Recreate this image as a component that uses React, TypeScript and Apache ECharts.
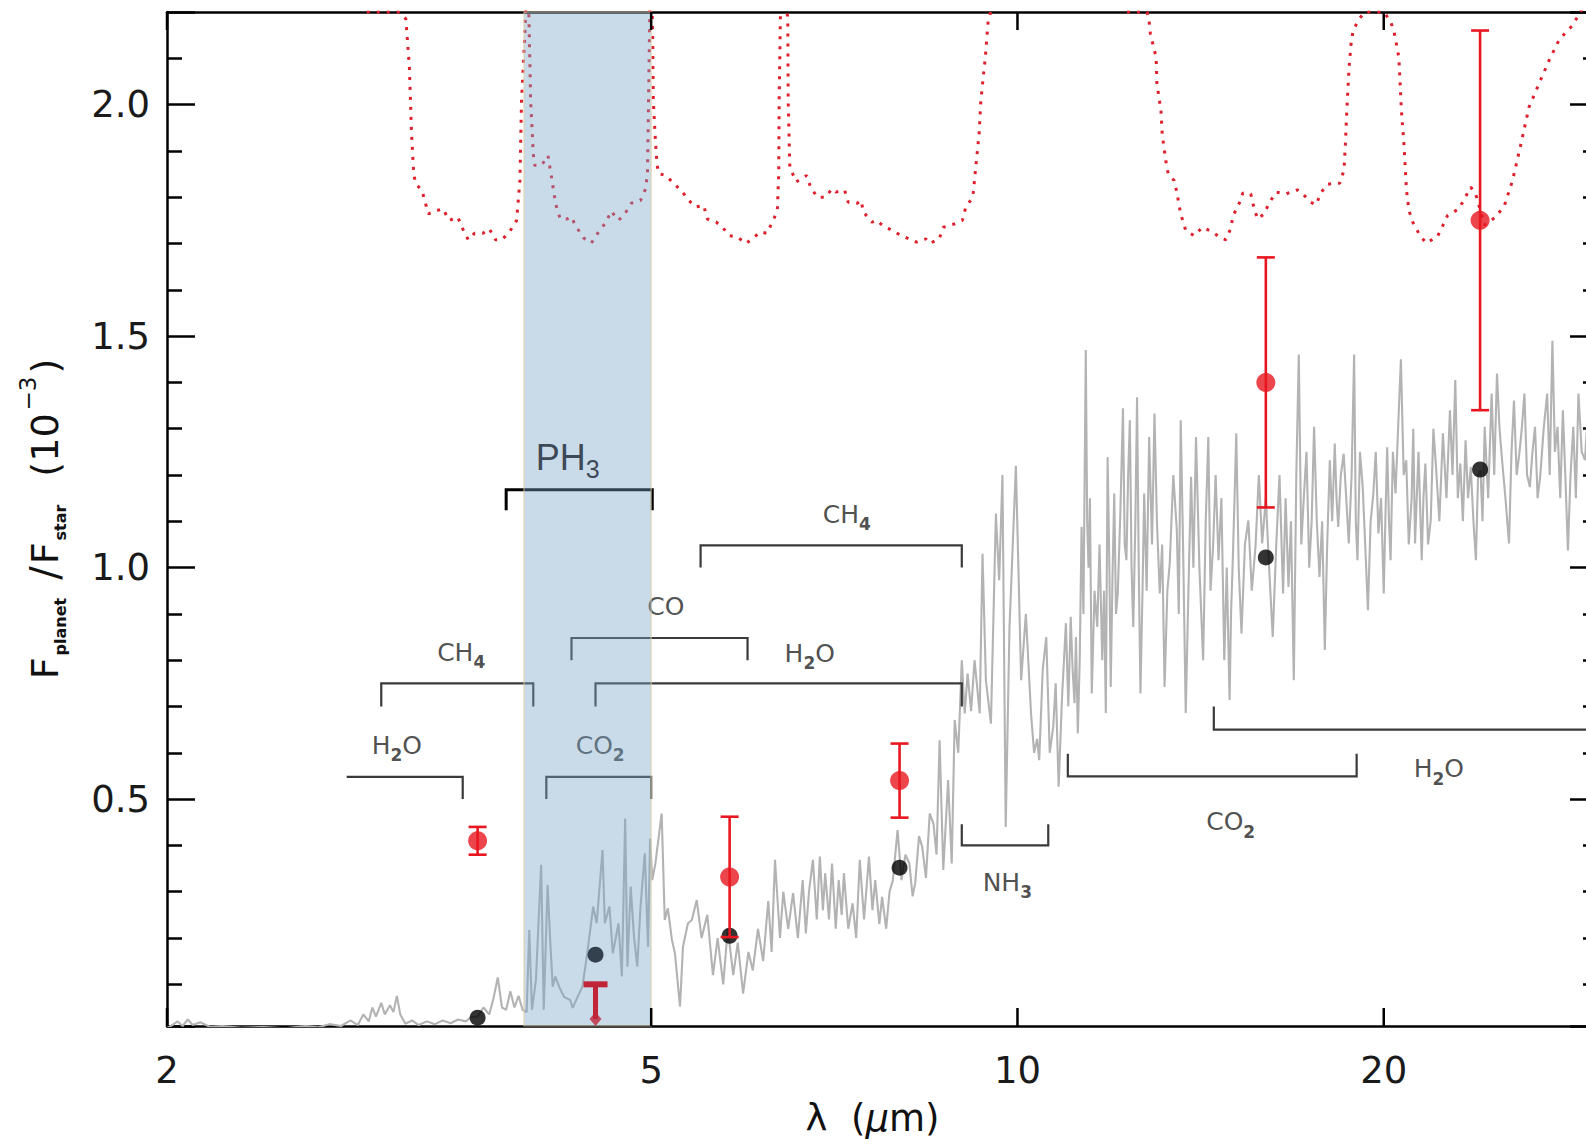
import React, { useEffect, useRef } from 'react';
import * as echarts from 'echarts';

// ---------- axis ranges & ticks ----------
const X_MIN = 2;
const X_MAX = 30;
const Y_MIN = 0.01;
const Y_MAX = 2.2;
const xTickValues = [2, 5, 10, 20];

// ---------- model spectrum (grey), [wavelength um, Fp/Fs 1e-3] ----------
const modelSpectrum: [number, number][] = [
  [2.0, 0.006], [2.02, 0.012], [2.04, 0.02], [2.06, 0.01], [2.08, 0.024], [2.1, 0.012], [2.13, 0.018], [2.17, 0.008],
  [2.22, 0.01], [2.3, 0.006], [2.4, 0.008], [2.5, 0.005], [2.6, 0.01], [2.66, 0.007], [2.72, 0.014], [2.78, 0.01],
  [2.83, 0.022], [2.87, 0.012], [2.9, 0.035], [2.93, 0.02], [2.95, 0.05], [2.97, 0.03], [3.0, 0.06], [3.02, 0.035],
  [3.05, 0.055], [3.07, 0.04], [3.09, 0.075], [3.11, 0.035], [3.14, 0.015], [3.18, 0.022], [3.22, 0.012], [3.27, 0.02],
  [3.32, 0.014], [3.37, 0.022], [3.42, 0.016], [3.47, 0.024], [3.52, 0.02], [3.56, 0.03],
  [3.6, 0.03], [3.64, 0.05], [3.68, 0.035], [3.71, 0.07], [3.74, 0.115], [3.77, 0.05], [3.8, 0.045], [3.83, 0.085],
  [3.86, 0.05], [3.89, 0.075], [3.92, 0.045],
  [3.95, 0.04], [3.97, 0.217], [3.99, 0.045], [4.02, 0.109], [4.06, 0.358], [4.08, 0.045], [4.11, 0.315], [4.13, 0.196],
  [4.15, 0.095], [4.17, 0.117], [4.2, 0.095], [4.24, 0.073], [4.29, 0.066], [4.31, 0.049], [4.35, 0.073], [4.39, 0.095],
  [4.43, 0.167], [4.48, 0.268], [4.51, 0.232], [4.56, 0.39], [4.58, 0.232], [4.62, 0.268], [4.65, 0.167], [4.7, 0.232],
  [4.73, 0.117], [4.76, 0.458], [4.78, 0.138], [4.81, 0.311], [4.84, 0.203], [4.87, 0.138], [4.9, 0.268], [4.94, 0.383],
  [4.97, 0.181], [4.99, 0.415], [5.01, 0.325], [5.04, 0.361], [5.1, 0.469], [5.13, 0.239], [5.16, 0.264], [5.2, 0.196],
  [5.23, 0.167], [5.28, 0.052], [5.31, 0.181], [5.36, 0.232], [5.4, 0.239], [5.45, 0.282],
  [5.5, 0.2], [5.56, 0.25], [5.62, 0.12], [5.67, 0.2], [5.73, 0.1], [5.78, 0.22], [5.84, 0.12], [5.89, 0.19],
  [5.95, 0.08], [6.01, 0.17], [6.06, 0.13], [6.12, 0.22], [6.18, 0.15], [6.24, 0.28], [6.28, 0.17], [6.32, 0.369],
  [6.38, 0.2], [6.42, 0.3], [6.48, 0.22], [6.54, 0.297], [6.6, 0.2], [6.66, 0.325], [6.7, 0.21], [6.74, 0.3],
  [6.79, 0.369], [6.84, 0.24], [6.88, 0.376], [6.92, 0.26], [6.95, 0.34], [7.0, 0.24], [7.04, 0.361], [7.09, 0.22],
  [7.13, 0.325], [7.17, 0.25], [7.2, 0.34], [7.26, 0.22], [7.32, 0.275], [7.37, 0.2], [7.42, 0.369], [7.48, 0.24],
  [7.55, 0.376], [7.6, 0.26], [7.64, 0.325], [7.7, 0.23], [7.74, 0.289], [7.8, 0.22], [7.85, 0.3], [7.9, 0.325],
  [7.97, 0.433], [8.03, 0.325], [8.09, 0.38], [8.15, 0.361], [8.2, 0.29], [8.24, 0.318], [8.3, 0.42], [8.35, 0.397],
  [8.41, 0.33], [8.47, 0.469], [8.53, 0.447], [8.58, 0.38], [8.63, 0.627], [8.69, 0.347], [8.77, 0.541], [8.83, 0.361],
  [8.88, 0.671], [8.94, 0.6], [9.0, 0.8], [9.05, 0.685], [9.1, 0.771], [9.16, 0.69], [9.22, 0.8], [9.31, 0.685],
  [9.36, 1.03], [9.42, 0.757], [9.51, 0.663], [9.6, 1.117], [9.66, 0.973], [9.72, 1.2], [9.78, 0.44], [9.85, 0.87],
  [9.91, 1.045], [9.97, 1.22], [10.07, 0.757], [10.16, 0.9], [10.26, 0.685], [10.32, 0.6], [10.38, 0.63],
  [10.42, 0.584], [10.49, 0.78], [10.56, 0.85], [10.63, 0.6], [10.7, 0.656], [10.75, 0.75], [10.81, 0.527], [10.88, 0.72],
  [10.96, 0.88], [11.01, 0.7], [11.06, 0.894], [11.1, 0.78], [11.14, 0.707], [11.17, 0.85], [11.21, 0.642], [11.25, 0.8],
  [11.29, 1.088], [11.33, 0.9], [11.38, 1.47], [11.41, 1.1], [11.44, 1.0], [11.47, 1.15], [11.51, 0.728], [11.57, 0.95],
  [11.63, 0.872], [11.68, 1.05], [11.74, 0.8], [11.78, 0.95], [11.82, 0.686], [11.86, 1.239], [11.9, 1.0], [11.93, 0.742],
  [11.97, 0.98], [12.01, 1.16], [12.05, 0.9], [12.09, 0.944], [12.15, 1.12], [12.21, 1.344], [12.25, 1.05], [12.29, 1.016],
  [12.33, 1.2], [12.37, 1.318], [12.41, 1.0], [12.45, 0.872], [12.5, 1.1], [12.54, 1.368], [12.58, 1.0], [12.62, 0.728],
  [12.67, 0.95], [12.71, 1.16], [12.77, 0.95], [12.83, 1.282], [12.9, 1.05], [12.96, 1.333], [13.02, 1.1], [13.09, 0.944],
  [13.15, 1.05], [13.21, 0.742], [13.28, 0.95], [13.34, 1.009], [13.43, 1.2], [13.52, 1.08], [13.57, 0.9], [13.62, 1.318],
  [13.68, 1.05], [13.75, 0.686], [13.82, 0.95], [13.89, 1.196], [13.95, 1.0], [14.02, 1.282], [14.11, 1.0], [14.21, 0.8],
  [14.28, 1.1], [14.35, 1.282], [14.41, 0.95], [14.48, 1.045], [14.55, 1.2], [14.63, 1.016], [14.71, 1.15], [14.79, 0.8],
  [14.86, 1.0], [14.94, 0.714], [14.98, 0.9], [15.03, 1.016], [15.08, 1.15], [15.13, 1.29], [15.2, 1.0], [15.28, 0.858],
  [15.38, 1.05], [15.48, 1.102], [15.58, 0.95], [15.69, 1.045], [15.79, 1.2], [15.89, 1.052], [16.0, 1.15], [16.1, 1.0],
  [16.21, 0.85], [16.32, 1.052], [16.42, 1.2], [16.53, 0.944], [16.61, 1.15], [16.7, 0.958], [16.78, 1.1], [16.87, 0.757],
  [16.95, 1.2], [17.03, 1.46], [17.11, 1.05], [17.2, 1.16], [17.28, 1.25], [17.37, 1.0], [17.45, 1.1], [17.53, 1.304],
  [17.62, 1.1], [17.71, 0.98], [17.8, 1.1], [17.89, 0.822], [17.97, 1.05], [18.06, 1.232], [18.14, 1.1], [18.23, 1.268],
  [18.29, 1.15], [18.35, 1.088], [18.44, 1.2], [18.54, 1.246], [18.63, 1.15], [18.72, 1.052], [18.82, 1.2], [18.91, 1.46],
  [18.97, 1.1], [19.03, 1.016], [19.12, 1.25], [19.22, 1.174], [19.31, 1.05], [19.41, 0.908], [19.51, 1.1], [19.61, 1.16],
  [19.7, 1.25], [19.8, 1.074], [19.9, 1.15], [20.0, 0.944], [20.06, 1.1], [20.13, 1.26], [20.2, 1.1], [20.26, 1.016],
  [20.35, 1.25], [20.45, 1.16], [20.55, 1.3], [20.66, 1.45], [20.77, 1.2], [20.87, 1.232], [20.97, 1.05], [21.08, 1.145],
  [21.15, 1.3], [21.22, 1.052], [21.36, 1.25], [21.49, 1.016], [21.56, 1.15], [21.64, 1.225], [21.75, 1.05], [21.86, 1.102],
  [21.97, 1.3], [22.08, 1.217], [22.22, 1.1], [22.37, 1.29], [22.52, 1.15], [22.67, 1.34], [22.78, 1.2], [22.9, 1.405],
  [23.01, 1.15], [23.12, 1.225], [23.23, 1.1], [23.35, 1.275], [23.46, 1.15], [23.58, 1.217], [23.7, 1.1], [23.81, 1.016],
  [23.91, 1.2], [24.02, 1.21], [24.11, 1.1], [24.21, 1.304], [24.37, 1.15], [24.53, 1.376], [24.65, 1.2], [24.78, 1.419],
  [24.9, 1.3], [25.02, 1.232], [25.18, 1.15], [25.35, 1.052], [25.47, 1.25], [25.59, 1.361], [25.72, 1.2], [25.85, 1.246],
  [25.97, 1.3], [26.1, 1.376], [26.23, 1.2], [26.37, 1.174], [26.5, 1.25], [26.63, 1.304], [26.76, 1.15], [26.89, 1.196],
  [27.07, 1.3], [27.25, 1.376], [27.38, 1.2], [27.52, 1.49], [27.65, 1.25], [27.79, 1.304], [27.93, 1.15], [28.07, 1.34],
  [28.2, 1.2], [28.34, 1.037], [28.48, 1.2], [28.63, 1.304], [28.77, 1.15], [28.91, 1.376], [29.09, 1.25], [29.27, 1.232],
  [29.45, 1.35], [29.6, 1.3], [29.8, 1.4], [30.0, 1.25],
];

// ---------- dotted red curve ----------
const dottedCurve: [number, number][] = [
  [2.0, 2.6], [2.6, 2.5], [2.85, 2.25], [2.9, 2.2], [3.1, 2.2], [3.143, 2.185], [3.164, 2.081], [3.177, 1.937],
  [3.19, 1.851], [3.202, 1.829], [3.24, 1.815], [3.28, 1.764], [3.332, 1.771], [3.371, 1.775], [3.412, 1.75],
  [3.468, 1.757], [3.495, 1.735], [3.537, 1.708], [3.579, 1.722], [3.637, 1.722], [3.68, 1.732], [3.724, 1.708],
  [3.768, 1.708], [3.824, 1.725], [3.876, 1.75], [3.9, 1.836], [3.912, 2.009], [3.937, 2.153], [3.95, 2.26],
  [3.96, 2.26], [3.968, 2.18], [3.98, 2.009], [4.0, 1.894], [4.01, 1.869], [4.064, 1.869], [4.113, 1.89],
  [4.13, 1.861], [4.145, 1.836], [4.16, 1.807], [4.18, 1.779], [4.21, 1.753], [4.264, 1.753], [4.296, 1.758],
  [4.342, 1.735], [4.4, 1.712], [4.465, 1.701], [4.526, 1.725], [4.59, 1.746], [4.635, 1.77], [4.7, 1.75],
  [4.757, 1.764], [4.815, 1.787], [4.9, 1.793], [4.947, 1.818], [4.965, 1.851], [4.975, 2.009], [4.99, 2.25],
  [5.0, 2.26], [5.012, 2.18], [5.02, 2.009], [5.04, 1.922], [5.055, 1.872], [5.07, 1.851], [5.14, 1.847],
  [5.222, 1.829], [5.306, 1.811], [5.37, 1.793], [5.436, 1.779], [5.523, 1.782], [5.56, 1.753], [5.656, 1.746],
  [5.724, 1.735], [5.793, 1.717], [5.886, 1.714], [5.982, 1.7], [6.052, 1.71], [6.15, 1.725], [6.224, 1.722],
  [6.298, 1.75], [6.348, 1.771], [6.365, 1.851], [6.37, 2.009], [6.39, 2.25], [6.45, 2.25], [6.475, 2.18],
  [6.48, 2.009], [6.5, 1.865], [6.578, 1.833], [6.71, 1.847], [6.76, 1.822], [6.846, 1.8], [6.956, 1.8],
  [7.038, 1.818], [7.09, 1.811], [7.21, 1.815], [7.26, 1.789], [7.384, 1.787], [7.44, 1.793], [7.47, 1.768],
  [7.594, 1.746], [7.66, 1.75], [7.778, 1.735], [7.84, 1.732], [7.966, 1.722], [8.03, 1.717], [8.188, 1.707],
  [8.26, 1.703], [8.408, 1.71], [8.47, 1.7], [8.624, 1.71], [8.69, 1.735], [8.868, 1.742], [9.01, 1.75],
  [9.07, 1.779], [9.19, 1.8], [9.23, 1.851], [9.3, 1.937], [9.33, 2.009], [9.41, 2.102], [9.46, 2.18],
  [9.55, 2.22], [9.7, 2.3], [11.5, 2.3], [12.0, 2.22], [12.3, 2.2], [12.78, 2.2], [12.83, 2.18], [12.86, 2.153],
  [13.0, 2.102], [13.02, 2.045], [13.12, 1.987], [13.15, 1.937], [13.24, 1.879], [13.3, 1.851], [13.45, 1.836],
  [13.51, 1.815], [13.62, 1.764], [13.75, 1.728], [13.97, 1.717], [14.19, 1.735], [14.47, 1.725], [14.65, 1.714],
  [14.83, 1.708], [14.97, 1.732], [15.04, 1.76], [15.21, 1.786], [15.32, 1.809], [15.55, 1.807], [15.63, 1.782],
  [15.75, 1.753], [15.95, 1.764], [16.09, 1.786], [16.31, 1.811], [16.62, 1.807], [16.98, 1.816], [17.16, 1.807],
  [17.42, 1.789], [17.6, 1.784], [17.75, 1.809], [17.98, 1.828], [18.26, 1.83], [18.4, 1.83], [18.55, 1.858],
  [18.6, 1.915], [18.65, 1.987], [18.73, 2.081], [18.8, 2.131], [18.87, 2.16], [19.09, 2.185], [19.3, 2.2],
  [20.0, 2.2], [20.26, 2.18], [20.4, 2.156], [20.58, 2.102], [20.63, 2.045], [20.68, 1.987], [20.77, 1.922],
  [20.83, 1.865], [20.88, 1.815], [20.98, 1.771], [21.13, 1.746], [21.38, 1.721], [21.66, 1.701], [22.13, 1.714],
  [22.33, 1.735], [22.56, 1.76], [23.06, 1.775], [23.34, 1.8], [23.58, 1.822], [23.8, 1.807], [24.2, 1.74],
  [24.72, 1.757], [25.13, 1.782], [25.52, 1.836], [25.93, 1.915], [26.33, 1.995], [26.83, 2.045], [27.34, 2.095],
  [27.86, 2.139], [28.22, 2.156], [28.57, 2.17], [29.02, 2.2], [29.5, 2.23], [30.0, 2.25],
];

// ---------- band-integrated model (black) and observations (red) ----------
const modelBandWl = [3.6, 4.5, 5.8, 8.0, 16, 24];
const modelBandFlux = [0.028, 0.164, 0.205, 0.352, 1.022, 1.212];

const obsWl = [3.6, 5.8, 8.0, 16, 24];
const obsFlux = [0.41, 0.332, 0.54, 1.4, 1.75];
const obsErr = [0.03, 0.13, 0.08, 0.27, 0.41];

const limitWl = [4.5];
const limitTop = [0.1];
const limitBottom = [0.025];

// ---------- PH3 band ----------
const ph3Band = [3.93, 5.0];
const ph3Bracket = [3.8, 5.01, 1.168, 1.124];
const ph3Label = [4.27, 1.237];

// ---------- molecular band brackets ----------
const bracketNames = ['H2O', 'CH4', 'CO', 'H2O', 'CH4', 'CO2', 'NH3', 'CO2', 'H2O'];
const bracketStart = [2.81, 3.0, 4.3, 4.5, 5.49, 4.1, 9.0, 11.0, 14.5];
const bracketEnd = [3.5, 4.0, 6.0, 9.0, 9.0, 5.0, 10.6, 19.0, 36];
const bracketLevel = [0.548, 0.75, 0.848, 0.75, 1.048, 0.548, 0.4, 0.549, 0.65];
const bracketTickStart = [0.548, 0.7, 0.8, 0.7, 1.0, 0.5, 0.446, 0.598, 0.7];
const bracketTickEnd = [0.5, 0.7, 0.8, 0.7, 1.0, 0.5, 0.446, 0.598, 0.65];
const labelWl = [3.09, 3.49, 5.14, 6.75, 7.24, 4.54, 9.81, 14.97, 22.2];
const labelFlux = [0.616, 0.817, 0.915, 0.815, 1.115, 0.616, 0.32, 0.451, 0.566];

const FONT = "'DejaVu Sans', sans-serif";
const ARIAL = "'Liberation Sans', Arial, sans-serif";
const RED = '#e8161f';
const RED_IN_BAND = '#c02638';
const BLACK_IN_BAND = '#0e1a28';

function toRich(name: string): string {
  return ('{n|' + name.replace(/(\d)/g, '}{s|$1}{n|') + '}').replace(/\{n\|\}/g, '');
}

function inBand(w: number): boolean {
  return w >= ph3Band[0] && w <= ph3Band[1];
}

export default function App() {
  const ref = useRef<HTMLDivElement>(null);

  useEffect(() => {
    document.body.style.margin = '0';
    const chart = echarts.init(ref.current as HTMLDivElement, null, { renderer: 'svg', width: 1586, height: 1148 });

    const axisLineStyle = { color: '#000', width: 2.5 };

    const option: any = {
      animation: false,
      backgroundColor: '#ffffff',
      grid: { left: 167, top: 12, right: -12, bottom: 122, containLabel: false, outerBoundsMode: 'none' },
      xAxis: [
        {
          type: 'log', logBase: 10, min: X_MIN, max: X_MAX, position: 'bottom',
          axisLine: { show: true, onZero: false, lineStyle: axisLineStyle },
          axisTick: { show: false }, minorTick: { show: false }, axisLabel: { show: false },
          splitLine: { show: false }, minorSplitLine: { show: false },
          name: '{n|λ  (}{i|μ}{n|m)}', nameLocation: 'middle', nameGap: 74,
          nameTextStyle: {
            padding: [0, 20, 0, 0],
            rich: {
              n: { fontFamily: FONT, fontSize: 37, color: '#111' },
              i: { fontFamily: FONT, fontSize: 37, fontStyle: 'italic', color: '#111' },
            },
          },
        },
        {
          type: 'log', logBase: 10, min: X_MIN, max: X_MAX, position: 'top',
          axisLine: { show: true, onZero: false, lineStyle: axisLineStyle },
          axisTick: { show: false }, minorTick: { show: false }, axisLabel: { show: false },
          splitLine: { show: false },
        },
      ],
      yAxis: [
        {
          type: 'value', min: Y_MIN, max: Y_MAX, position: 'left',
          axisLine: { show: true, onZero: false, lineStyle: axisLineStyle },
          axisTick: { show: true, inside: true, length: 28, lineStyle: { color: '#000', width: 2.5 } },
          minorTick: { show: true, splitNumber: 5, length: 15, lineStyle: { color: '#000', width: 2.5 } },
          axisLabel: {
            show: true, showMinLabel: false, showMaxLabel: false, margin: 17,
            formatter: (v: number) => v.toFixed(1), fontFamily: FONT, fontSize: 37, color: '#1a1a1a',
          },
          splitLine: { show: false },
          name: '{f|F}{b|planet}{sl|/}{f|F}{b|star}{p|(10}{s|−3}{f|)}',
          nameLocation: 'middle', nameGap: 100,
          nameTextStyle: {
            rich: {
              f: { fontFamily: FONT, fontSize: 38, color: '#111', lineHeight: 44 },
              sl: { fontFamily: FONT, fontSize: 40, color: '#111', lineHeight: 44, padding: [0, 2, 0, 16] },
              p: { fontFamily: FONT, fontSize: 38, color: '#111', lineHeight: 44, padding: [0, 0, 0, 26] },
              b: { fontFamily: FONT, fontSize: 16, fontWeight: 'bold', color: '#111', height: 13, lineHeight: 13, verticalAlign: 'bottom', padding: [0, 2, 0, 2] },
              s: { fontFamily: FONT, fontSize: 23, color: '#111', height: 10, lineHeight: 10, verticalAlign: 'top', padding: [0, 3, 0, 3] },
            },
          },
        },
        {
          type: 'value', min: Y_MIN, max: Y_MAX, position: 'right',
          axisLine: { show: true, onZero: false, lineStyle: axisLineStyle },
          axisTick: { show: true, inside: true, length: 28, lineStyle: { color: '#000', width: 2.5 } },
          minorTick: { show: true, splitNumber: 5, length: 15, lineStyle: { color: '#000', width: 2.5 } },
          axisLabel: { show: false },
          splitLine: { show: false },
        },
      ],
      series: [
        {
          name: 'model spectrum', type: 'line', data: modelSpectrum, symbol: 'none', showSymbol: false,
          lineStyle: { color: '#b3b3b3', width: 2.1 }, z: 2, silent: true,
        },
        {
          name: 'dotted', type: 'line', data: dottedCurve, symbol: 'none', showSymbol: false,
          lineStyle: { color: '#de1f2c', width: 3, type: [3, 7] }, z: 2, silent: true,
        },
        {
          name: 'brackets', type: 'custom', z: 3, silent: true,
          data: bracketStart.map((s, i) => [s, bracketEnd[i], bracketLevel[i], bracketTickStart[i], bracketTickEnd[i]]),
          encode: { x: [0, 1], y: [2, 3, 4] },
          renderItem: (params: any, api: any) => {
            const x1 = api.value(0), x2 = api.value(1), y = api.value(2), t1 = api.value(3), t2 = api.value(4);
            const pts = [api.coord([x1, t1]), api.coord([x1, y]), api.coord([x2, y]), api.coord([x2, t2])];
            return { type: 'polyline', shape: { points: pts }, style: { stroke: '#3a3a3a', lineWidth: 2.2, fill: null } };
          },
        },
        {
          name: 'ph3 bracket', type: 'custom', z: 3, silent: true,
          data: [ph3Bracket],
          encode: { x: [0, 1], y: [2, 3] },
          renderItem: (params: any, api: any) => {
            const x1 = api.value(0), x2 = api.value(1), y = api.value(2), t = api.value(3);
            const pts = [api.coord([x1, t]), api.coord([x1, y]), api.coord([x2, y]), api.coord([x2, t])];
            return { type: 'polyline', shape: { points: pts }, style: { stroke: '#000', lineWidth: 3, fill: null } };
          },
        },
        {
          name: 'labels', type: 'scatter', z: 3, silent: true, symbolSize: 1,
          itemStyle: { color: 'rgba(0,0,0,0)' },
          data: labelWl.map((w, i) => [w, labelFlux[i]]),
          label: {
            show: true, position: 'inside', color: '#222', textBorderWidth: 0,
            formatter: (p: any) => toRich(bracketNames[p.dataIndex]),
            rich: {
              n: { fontFamily: FONT, fontSize: 25, color: '#222', lineHeight: 30 },
              s: { fontFamily: FONT, fontSize: 17, fontWeight: 'bold', color: '#222', height: 10, lineHeight: 10, verticalAlign: 'bottom' },
            },
          },
        },
        {
          name: 'ph3 label', type: 'scatter', z: 12, silent: true, symbolSize: 1,
          itemStyle: { color: 'rgba(0,0,0,0)' },
          data: [ph3Label],
          label: {
            show: true, position: 'inside', color: '#16212d', textBorderWidth: 0,
            formatter: () => toRich('PH3'),
            rich: {
              n: { fontFamily: ARIAL, fontSize: 36, color: '#16212d', lineHeight: 40 },
              s: { fontFamily: ARIAL, fontSize: 25, color: '#16212d', height: 18, lineHeight: 18, verticalAlign: 'bottom' },
            },
          },
        },
        {
          name: 'model bands', type: 'scatter', z: 12, silent: true, symbol: 'circle', symbolSize: 16,
          data: modelBandWl.map((w, i) => ({
            value: [w, modelBandFlux[i]],
            itemStyle: { color: inBand(w) ? BLACK_IN_BAND : '#000' },
          })),
        },
        {
          name: 'error bars', type: 'custom', z: 13, silent: true,
          data: obsWl.map((w, i) => [w, obsFlux[i] - obsErr[i], obsFlux[i] + obsErr[i]]),
          encode: { x: 0, y: [1, 2] },
          renderItem: (params: any, api: any) => {
            const x = api.value(0);
            const lo = api.coord([x, api.value(1)]);
            const hi = api.coord([x, api.value(2)]);
            const hw = 9;
            const style = { stroke: RED, lineWidth: 2.6 };
            return {
              type: 'group',
              children: [
                { type: 'line', shape: { x1: lo[0], y1: lo[1], x2: hi[0], y2: hi[1] }, style },
                { type: 'line', shape: { x1: lo[0] - hw, y1: lo[1], x2: lo[0] + hw, y2: lo[1] }, style },
                { type: 'line', shape: { x1: hi[0] - hw, y1: hi[1], x2: hi[0] + hw, y2: hi[1] }, style },
              ],
            };
          },
        },
        {
          name: 'upper limit', type: 'custom', z: 13, silent: true,
          data: limitWl.map((w, i) => [w, limitBottom[i], limitTop[i]]),
          encode: { x: 0, y: [1, 2] },
          renderItem: (params: any, api: any) => {
            const x = api.value(0);
            const lo = api.coord([x, api.value(1)]);
            const hi = api.coord([x, api.value(2)]);
            const c = inBand(x) ? RED_IN_BAND : RED;
            return {
              type: 'group',
              children: [
                { type: 'line', shape: { x1: lo[0], y1: lo[1], x2: hi[0], y2: hi[1] }, style: { stroke: c, lineWidth: 5 } },
                { type: 'line', shape: { x1: hi[0] - 12, y1: hi[1], x2: hi[0] + 12, y2: hi[1] }, style: { stroke: c, lineWidth: 6 } },
              ],
            };
          },
        },
        {
          name: 'limit tip', type: 'scatter', z: 13, silent: true, symbol: 'diamond', symbolSize: [12, 14],
          data: limitWl.map((w, i) => ({
            value: [w, limitBottom[i]],
            itemStyle: { color: inBand(w) ? RED_IN_BAND : RED },
          })),
        },
        {
          name: 'observations', type: 'scatter', z: 14, silent: true, symbol: 'circle', symbolSize: 19,
          itemStyle: { color: RED },
          data: obsWl.map((w, i) => [w, obsFlux[i]]),
        },
        {
          name: 'PH3 band', type: 'custom', z: 10, silent: true,
          data: [[ph3Band[0], ph3Band[1], Y_MIN, Y_MAX]],
          encode: { x: [0, 1], y: [2, 3] },
          renderItem: (params: any, api: any) => {
            const p1 = api.coord([api.value(0), api.value(3)]);
            const p2 = api.coord([api.value(1), api.value(2)]);
            return {
              type: 'rect',
              shape: { x: p1[0], y: p1[1], width: p2[0] - p1[0], height: p2[1] - p1[1] },
              style: { fill: 'rgba(120,165,200,0.4)', stroke: 'rgba(225,205,160,0.7)', lineWidth: 1.2 },
            };
          },
        },
        {
          name: 'x ticks', type: 'custom', z: 11, silent: true,
          data: xTickValues.map((v) => [v, Y_MIN]),
          encode: { x: 0, y: 1 },
          renderItem: (params: any, api: any) => {
            const v = api.value(0);
            const pb = api.coord([v, Y_MIN]);
            const pt = api.coord([v, Y_MAX]);
            const st = { stroke: '#000', lineWidth: 2.5 };
            return {
              type: 'group',
              children: [
                { type: 'line', shape: { x1: pb[0], y1: pb[1], x2: pb[0], y2: pb[1] - 18 }, style: st },
                { type: 'line', shape: { x1: pt[0], y1: pt[1], x2: pt[0], y2: pt[1] + 18 }, style: st },
                {
                  type: 'text', x: pb[0], y: pb[1] + 44,
                  style: {
                    text: String(v), textAlign: 'center', textVerticalAlign: 'middle', align: 'center', verticalAlign: 'middle',
                    fontSize: 37, fontFamily: FONT, fill: '#1a1a1a',
                  },
                },
              ],
            };
          },
        },
      ],
    };

    chart.setOption(option);
    return () => chart.dispose();
  }, []);

  return (
    <div
      ref={ref}
      style={{ position: 'absolute', left: 0, top: 0, width: 1586, height: 1148, background: '#fff' }}
    />
  );
}
